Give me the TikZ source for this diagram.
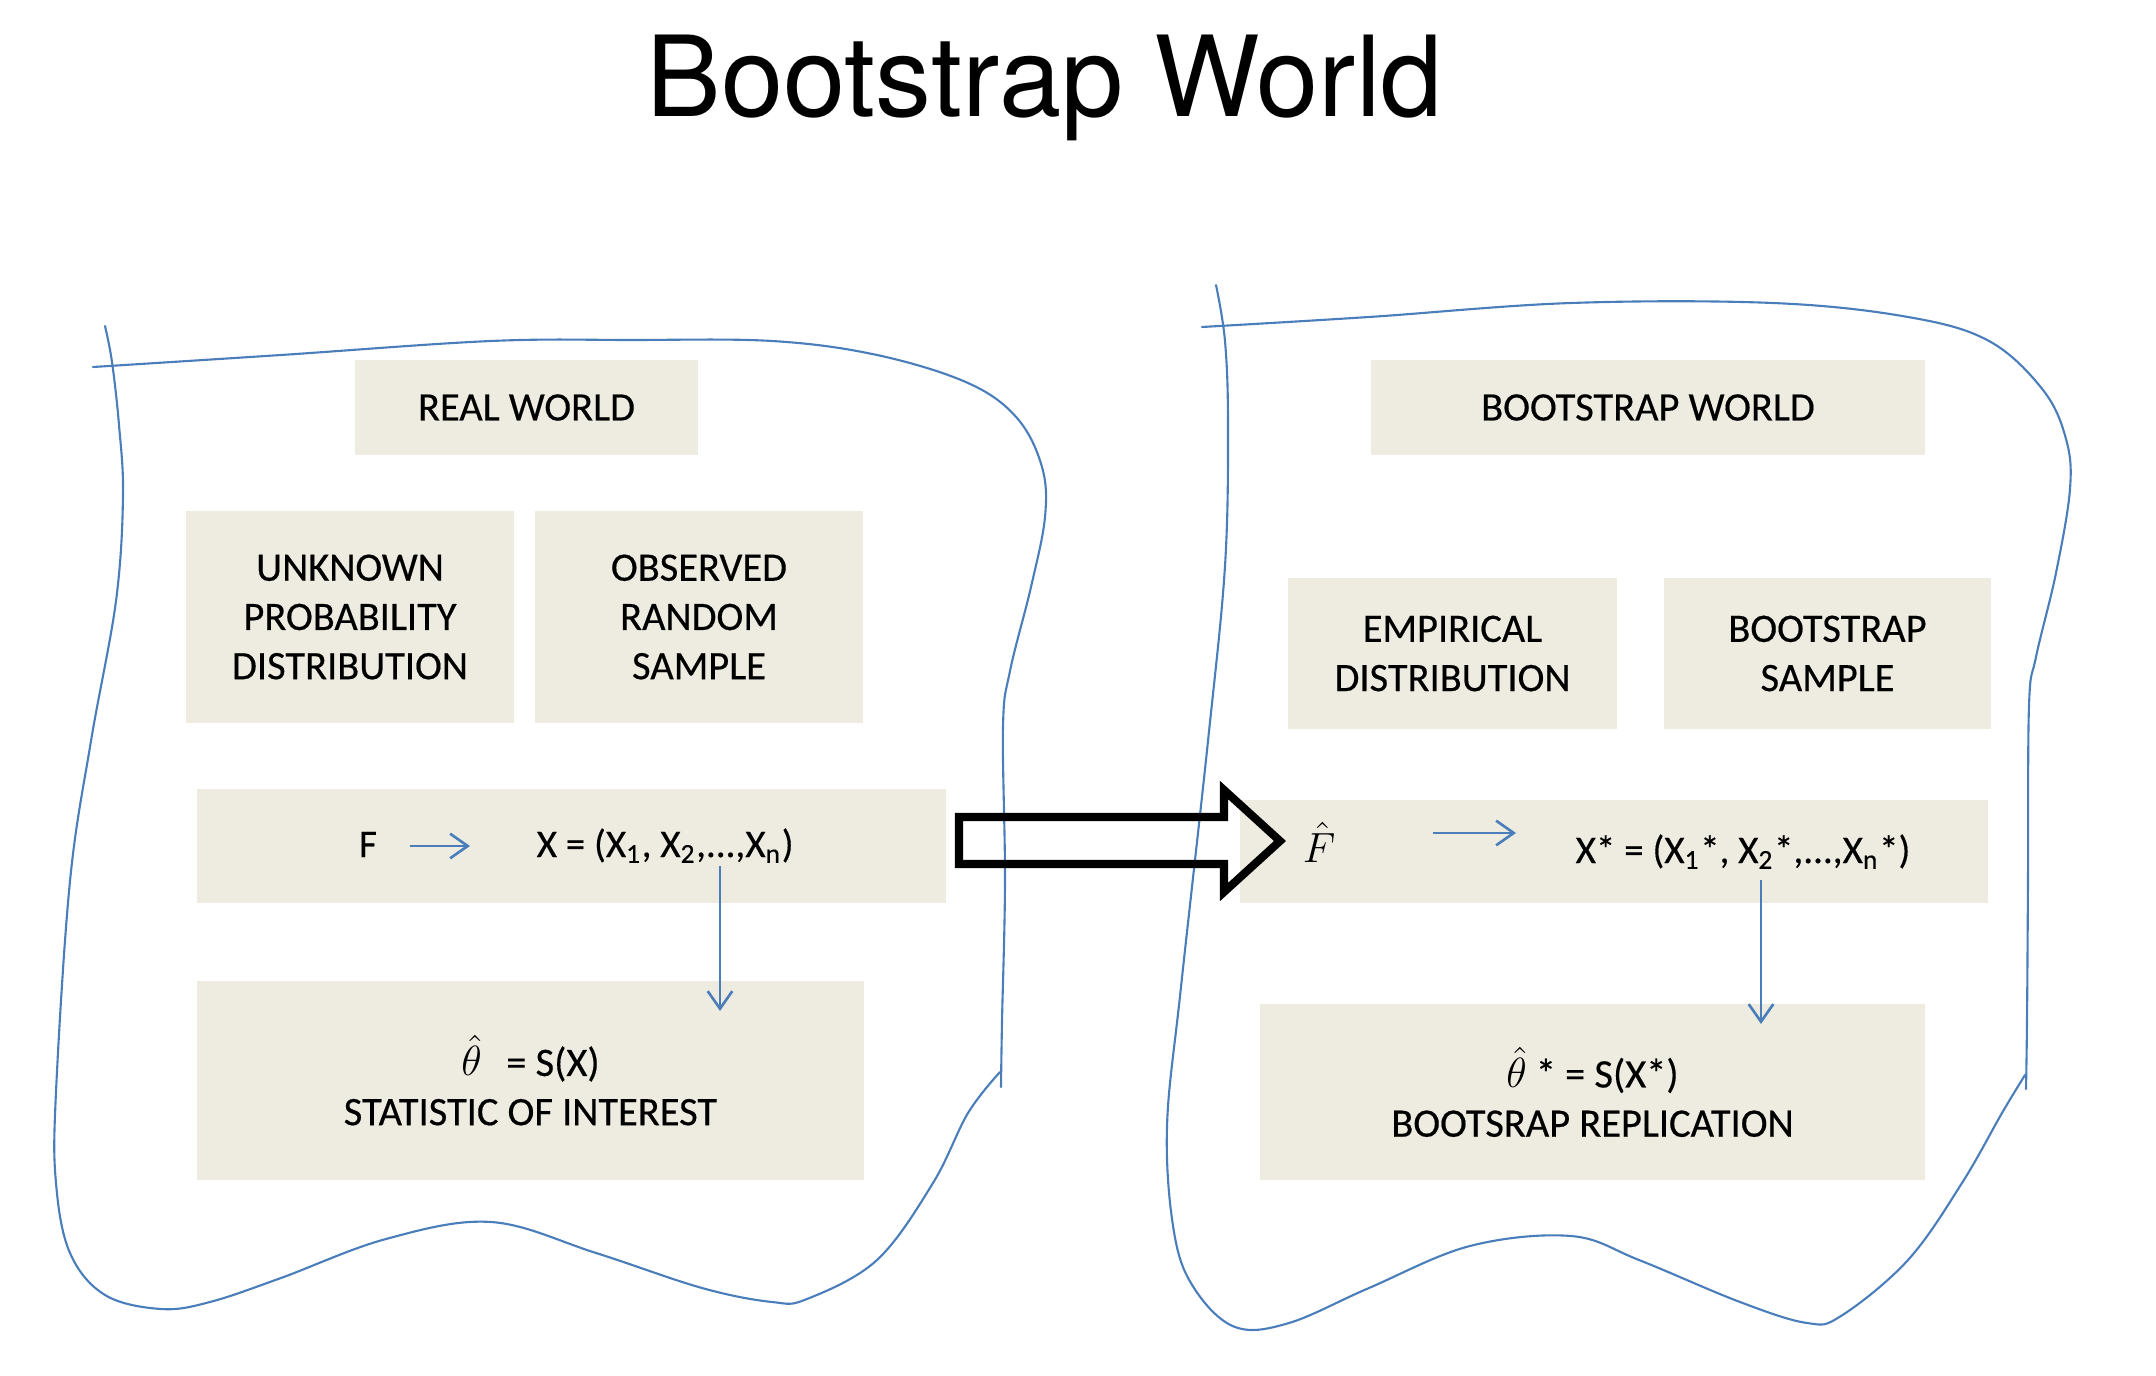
\documentclass[tikz,border=0pt]{standalone}
\usepackage{fontspec}
\setmainfont{Carlito}[FakeBold=0.4]
\newfontfamily\titlefont{TeX Gyre Heros}
\usetikzlibrary{arrows.meta}
\definecolor{boxfill}{HTML}{EEECE1}
\definecolor{lineblue}{HTML}{4A7EBB}
\newcommand{\lblfont}{\fontsize{11.5}{14}\selectfont}
\newcommand{\frmfont}{\fontsize{11.1}{14}\selectfont}
\begin{document}
\begin{tikzpicture}[x=0.01cm,y=-0.01cm,
  box/.style={fill=boxfill, inner sep=0pt, align=center, font=\lblfont},
  txt/.style={inner sep=0pt, font=\frmfont},
  blobline/.style={draw=lineblue, line width=0.6pt, line join=round, line cap=round},
  thinarrow/.style={draw=lineblue, line width=0.75pt, -{Straight Barb[length=5pt,width=7pt]}},
  bigarrow/.style={draw=black, line width=2.3pt, line join=miter}]
\path[use as bounding box] (0,0) rectangle (2156,1376);

% title
\node[inner sep=0pt, anchor=base, font=\titlefont\fontsize{31.8}{32}\selectfont] (title) at (1045,117) {Bootstrap World};

% real world boxes
\node[box, minimum width=3.43cm, minimum height=0.95cm] (rw) at (526.5,407.5) {REAL WORLD};
\node[box, minimum width=3.28cm, minimum height=2.12cm] (unk) at (350,617) {UNKNOWN\\PROBABILITY\\DISTRIBUTION};
\node[box, minimum width=3.28cm, minimum height=2.12cm] (obs) at (699,617) {OBSERVED\\RANDOM\\SAMPLE};
\node[box, minimum width=7.49cm, minimum height=1.14cm] (frow) at (571.5,846) {};
\node[box, minimum width=6.67cm, minimum height=1.99cm] (stat) at (530.5,1080.5) {{\fontsize{12.5}{14}\selectfont$\hat{\theta}$}\hspace{7pt}= S(X)\\STATISTIC OF INTEREST};

% bootstrap world boxes
\node[box, minimum width=5.54cm, minimum height=0.95cm] (bw) at (1648,407.5) {BOOTSTRAP WORLD};
\node[box, minimum width=3.29cm, minimum height=1.51cm] (emp) at (1452.5,653.5) {EMPIRICAL\\DISTRIBUTION};
\node[box, minimum width=3.27cm, minimum height=1.51cm] (bs) at (1827.5,653.5) {BOOTSTRAP\\SAMPLE};
\node[box, minimum width=7.48cm, minimum height=1.03cm] (fhrow) at (1614,851.5) {};
\node[box, minimum width=6.65cm, minimum height=1.76cm] (rep) at (1592.5,1092) {{\fontsize{12.5}{14}\selectfont$\hat{\theta}$} * = S(X*)\\BOOTSRAP REPLICATION};

% row texts
\node[txt, anchor=base] (F) at (368,857) {F};
\node[txt, anchor=base west] (X) at (536,857) {X = (X\textsubscript{1}, X\textsubscript{2},...,X\textsubscript{n})};
\node[txt, anchor=base, font=\fontsize{12.5}{14}\selectfont] (Fh) at (1319,862) {$\hat{F}$};
\node[txt, anchor=base west] (Xs) at (1575,863) {X* = (X\textsubscript{1}*, X\textsubscript{2}*,...,X\textsubscript{n}*)};

% thin arrows
\coordinate (fa1) at (410,846); \coordinate (fa2) at (470,846);
\coordinate (da1) at (720,866); \coordinate (da2) at (720,1011);
\coordinate (fb1) at (1433,833); \coordinate (fb2) at (1516,833);
\coordinate (db1) at (1761,880); \coordinate (db2) at (1761,1024);
\draw[thinarrow] (fa1) -- (fa2);
\draw[thinarrow] (da1) -- (da2);
\draw[thinarrow] (fb1) -- (fb2);
\draw[thinarrow] (db1) -- (db2);

% hand drawn outlines
\draw[blobline] plot[smooth, tension=0.6] coordinates {(93,367) (281,355) (491,341) (631,340) (772,341) (877,355) (968,383) (1017,418) (1042,467) (1045,517) (1031,587) (1010,671) (1003,727) (1005,881) (1002,1022) (1001,1087)};
\draw[blobline] plot[smooth, tension=0.6] coordinates {(1000,1072) (968,1113) (933,1183) (877,1260) (807,1299) (772,1302) (702,1288) (596,1253) (491,1222) (386,1239) (281,1278) (210,1302) (161,1309) (105,1295) (70,1253) (56,1183) (56,1092) (70,881) (91,741) (116,601) (123,496) (119,425) (112,362) (105,326)};

\draw[blobline] plot[smooth, tension=0.6] coordinates {(1202,327) (1369,317) (1571,303) (1773,303) (1908,317) (1989,341) (2043,390) (2066,439) (2070,489) (2056,573) (2036,657) (2029,706) (2028,881) (2027,1022) (2026,1089)};
\draw[blobline] plot[smooth, tension=0.6] coordinates {(2025,1075) (2002,1113) (1962,1183) (1908,1260) (1841,1316) (1807,1323) (1740,1302) (1639,1260) (1571,1236) (1470,1246) (1369,1288) (1289,1323) (1235,1327) (1194,1288) (1174,1232) (1167,1127) (1181,987) (1208,741) (1225,566) (1228,425) (1225,341) (1216,285)};

% big hollow arrow
\coordinate (ba1) at (959,817); \coordinate (ba2) at (1224,817); \coordinate (ba3) at (1224,790);
\coordinate (ba4) at (1280,841); \coordinate (ba5) at (1224,892); \coordinate (ba6) at (1224,864);
\coordinate (ba7) at (959,864);
\draw[bigarrow] (ba1) -- (ba2) -- (ba3) -- (ba4) -- (ba5) -- (ba6) -- (ba7) -- cycle;
\end{tikzpicture}
\end{document}
